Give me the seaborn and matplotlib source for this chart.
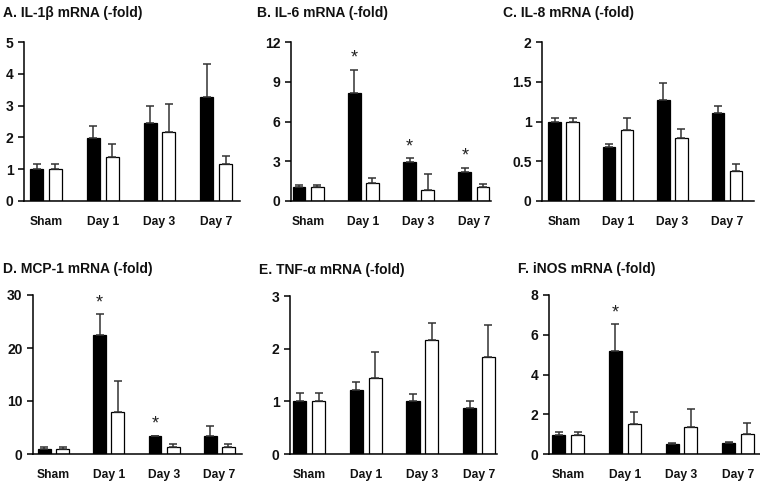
import matplotlib
matplotlib.use("Agg")
import matplotlib.pyplot as plt
import seaborn as sns
import pandas as pd

# ---------------- data ----------------
categories = ["Sham", "Day 1", "Day 3", "Day 7"]
groups = ["Group 1", "Group 2"]

titles = ["A. IL-1\u03b2 mRNA (-fold)", "B. IL-6 mRNA (-fold)", "C. IL-8 mRNA (-fold)",
          "D. MCP-1 mRNA (-fold)", "E. TNF-\u03b1 mRNA (-fold)", "F. iNOS mRNA (-fold)"]

il1b_black = [1.0, 1.97, 2.45, 3.26]
il1b_black_sem = [0.16, 0.40, 0.53, 1.04]
il1b_white = [1.0, 1.37, 2.17, 1.15]
il1b_white_sem = [0.16, 0.43, 0.88, 0.27]

il6_black = [1.03, 8.16, 2.91, 2.16]
il6_black_sem = [0.15, 1.76, 0.30, 0.35]
il6_white = [1.03, 1.33, 0.83, 1.03]
il6_white_sem = [0.15, 0.43, 1.20, 0.23]

il8_black = [1.0, 0.68, 1.27, 1.11]
il8_black_sem = [0.05, 0.04, 0.21, 0.08]
il8_white = [1.0, 0.89, 0.79, 0.38]
il8_white_sem = [0.05, 0.16, 0.11, 0.08]

mcp1_black = [0.95, 22.4, 3.4, 3.4]
mcp1_black_sem = [0.30, 4.0, 0.05, 1.9]
mcp1_white = [0.95, 7.85, 1.4, 1.4]
mcp1_white_sem = [0.30, 5.85, 0.40, 0.40]

tnfa_black = [1.0, 1.21, 1.0, 0.87]
tnfa_black_sem = [0.16, 0.15, 0.14, 0.13]
tnfa_white = [1.0, 1.44, 2.16, 1.85]
tnfa_white_sem = [0.16, 0.49, 0.32, 0.59]

inos_black = [0.95, 5.2, 0.5, 0.55]
inos_black_sem = [0.18, 1.35, 0.05, 0.05]
inos_white = [0.95, 1.5, 1.38, 1.03]
inos_white_sem = [0.18, 0.60, 0.88, 0.55]

# indices of black bars marked with *
il1b_stars = []
il6_stars = [1, 2, 3]
il8_stars = []
mcp1_stars = [1, 2]
tnfa_stars = []
inos_stars = [1]

yticks_il1b = [0, 1, 2, 3, 4, 5]
yticks_il6 = [0, 3, 6, 9, 12]
yticks_il8 = [0, 0.5, 1, 1.5, 2]
yticks_mcp1 = [0, 10, 20, 30]
yticks_tnfa = [0, 1, 2, 3]
yticks_inos = [0, 2, 4, 6, 8]

# ---------------- layout (pixels) ----------------
W, H = 760, 484
panels = [
    dict(title=titles[0], b=il1b_black, bs=il1b_black_sem, w=il1b_white, ws=il1b_white_sem,
         stars=il1b_stars, yt=yticks_il1b, box=(24, 42, 240, 201), xlim=(-0.39, 3.42), tpos=(3, 13)),
    dict(title=titles[1], b=il6_black, bs=il6_black_sem, w=il6_white, ws=il6_white_sem,
         stars=il6_stars, yt=yticks_il6, box=(291, 42, 491, 201), xlim=(-0.31, 3.31), tpos=(257, 13)),
    dict(title=titles[2], b=il8_black, bs=il8_black_sem, w=il8_white, ws=il8_white_sem,
         stars=il8_stars, yt=yticks_il8, box=(542, 42, 754, 201), xlim=(-0.40, 3.50), tpos=(503, 13)),
    dict(title=titles[3], b=mcp1_black, bs=mcp1_black_sem, w=mcp1_white, ws=mcp1_white_sem,
         stars=mcp1_stars, yt=yticks_mcp1, box=(33, 295, 242, 454), xlim=(-0.37, 3.41), tpos=(3, 269)),
    dict(title=titles[4], b=tnfa_black, bs=tnfa_black_sem, w=tnfa_white, ws=tnfa_white_sem,
         stars=tnfa_stars, yt=yticks_tnfa, box=(290, 296, 497, 454), xlim=(-0.34, 3.32), tpos=(259, 270)),
    dict(title=titles[5], b=inos_black, bs=inos_black_sem, w=inos_white, ws=inos_white_sem,
         stars=inos_stars, yt=yticks_inos, box=(549, 295, 760, 454), xlim=(-0.34, 3.39), tpos=(518, 269)),
]

sns.set_theme(style="white")
plt.rcParams["font.family"] = ["Liberation Sans", "DejaVu Sans"]

fig = plt.figure(figsize=(W / 100, H / 100), dpi=100)
fig.patch.set_facecolor("white")

for p in panels:
    l, t, r, btm = p["box"]
    ax = fig.add_axes([l / W, 1 - btm / H, (r - l) / W, (btm - t) / H])
    df = pd.DataFrame({
        "category": categories * 2,
        "group": [groups[0]] * 4 + [groups[1]] * 4,
        "value": p["b"] + p["w"],
    })
    sns.barplot(data=df, x="category", y="value", hue="group", order=categories,
                hue_order=groups, palette=["black", "white"], edgecolor="black",
                linewidth=0.9, width=0.66, gap=0.3, errorbar=None, legend=False,
                saturation=1, ax=ax)
    sems = [p["bs"], p["ws"]]
    bar_containers = list(ax.containers)
    for ci, cont in enumerate(bar_containers):
        for bi, bar in enumerate(cont.patches):
            xc = bar.get_x() + bar.get_width() / 2
            h = bar.get_height()
            ax.errorbar(xc, h, yerr=[[0], [sems[ci][bi]]], fmt="none", ecolor="#333333",
                        elinewidth=1.1, capsize=3, capthick=1.1, zorder=1)
            if ci == 0 and bi in p["stars"]:
                ax.annotate("*", (xc, h + sems[ci][bi]), xytext=(0, 2),
                            textcoords="offset points", ha="center", va="bottom",
                            fontsize=13, color="#222222")
    ax.set_xlim(*p["xlim"])
    ax.set_ylim(p["yt"][0], p["yt"][-1])
    ax.set_yticks(p["yt"])
    ax.set_yticklabels([f"{v:g}" for v in p["yt"]])
    ax.set_xlabel("")
    ax.set_ylabel("")
    for s in ["top", "right"]:
        ax.spines[s].set_visible(False)
    for s in ["left", "bottom"]:
        ax.spines[s].set_color("black")
        ax.spines[s].set_linewidth(1.1)
    ax.tick_params(axis="y", direction="out", length=4, width=1.1, color="black",
                   pad=3.5, labelsize=10, labelcolor="#111111", left=True)
    ax.tick_params(axis="x", length=0, pad=10.5, labelsize=8.7, labelcolor="#111111")
    for lab in ax.get_xticklabels():
        lab.set_fontweight("bold")
    for lab in ax.get_yticklabels():
        lab.set_fontweight("bold")
    ax.set_facecolor("white")
    fig.text(p["tpos"][0] / W, 1 - p["tpos"][1] / H, p["title"], ha="left", va="center",
             fontsize=10, fontweight="bold", color="#111111")

fig.savefig("out.png", dpi=100, facecolor="white")
